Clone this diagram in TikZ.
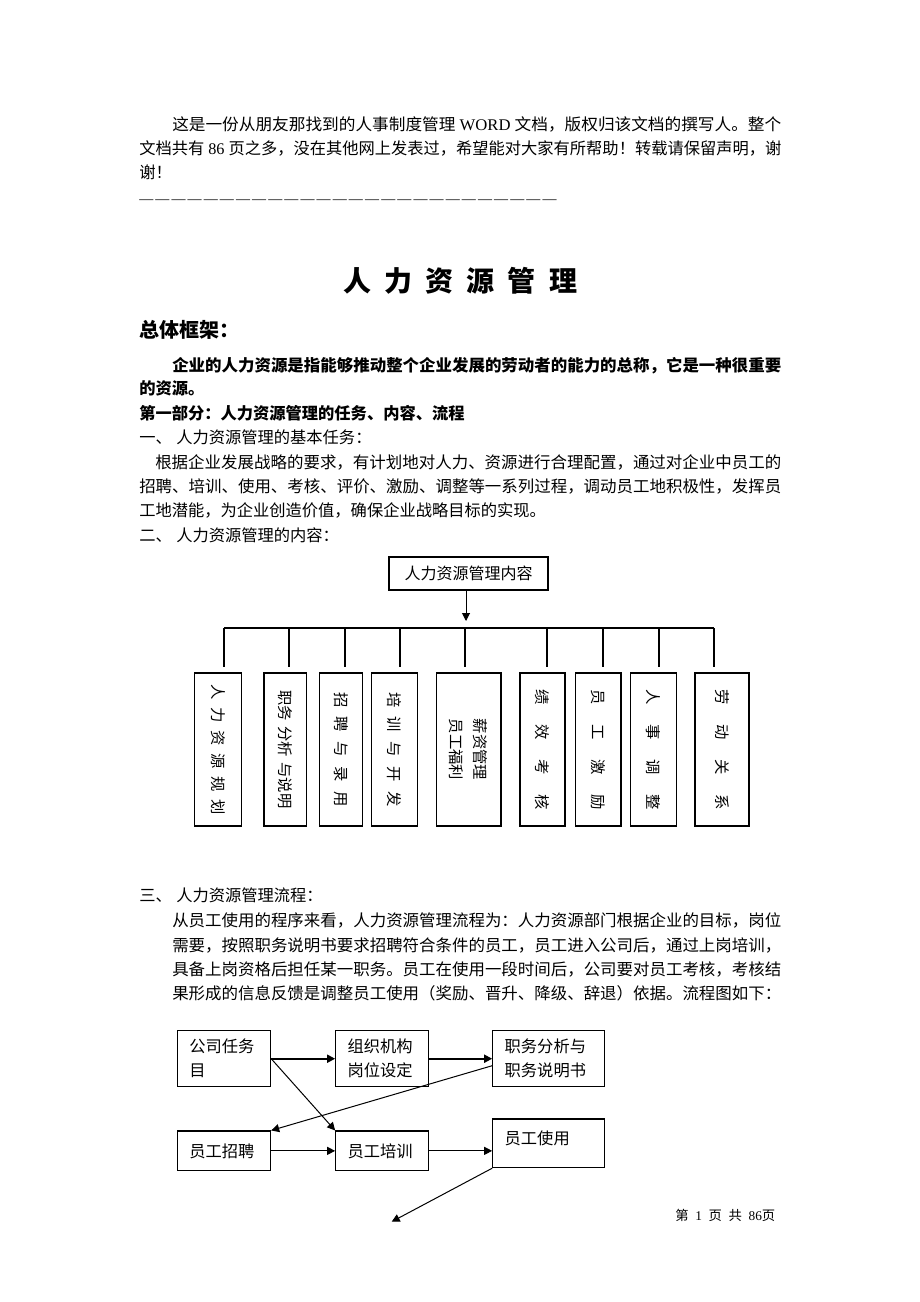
\documentclass[tikz,border=0pt]{standalone}
\usepackage{fontspec}
\usepackage{graphicx}
\setmainfont{Noto Sans CJK SC}
\newfontfamily\latin{Liberation Serif}
\usetikzlibrary{arrows.meta}
\usetikzlibrary{calc}
\newcommand{\jline}[2]{\resizebox{#1}{\height}{#2}}

\begin{document}
\begin{tikzpicture}[x=0.75pt,y=0.75pt,yscale=-1,xscale=1,
  txt/.style={anchor=west, inner sep=0pt, text height=10.7pt, text depth=1.5pt, font=\fontsize{12.2}{18}\selectfont},
  boldtxt/.style={txt, font=\fontsize{12.2}{18}\selectfont\bfseries},
  box/.style={draw, line width=0.8pt, inner sep=0pt},
  vbox/.style={box, rotate=-90, minimum width=114.75pt, font=\fontsize{11.5}{18}\selectfont, align=left},
  fbox/.style={box, inner xsep=9pt, font=\fontsize{12.2}{18}\selectfont, align=left},
  arr/.style={-{Triangle[length=6pt,width=6pt]}, line width=0.75pt},
  thickarr/.style={arr, line width=1.3pt}]
\useasboundingbox (0,0) rectangle (920,1302);
\fill [white] (0,0) rectangle (920,1302);

% Text Node
\node [txt] (intro1) at (172,124) {\jline{456.75pt}{这是一份从朋友那找到的人事制度管理{\latin\ WORD\ }文档，版权归该文档的撰写人。整个}};
% Text Node
\node [txt] (intro2) at (139,148) {\jline{481.5pt}{文档共有{\latin\ 86\ }页之多，没在其他网上发表过，希望能对大家有所帮助！转载请保留声明，谢}};
% Text Node
\node [txt] (intro3) at (139,172) {谢！};
% Text Node
\node [txt, font=\latin\fontsize{10.5}{12}\selectfont] (rule) at (139,197) {\foreach \d in {1,...,26}{—\kern1.6pt}};

% Text Node
\node [inner sep=0pt, font=\fontsize{21}{24}\selectfont\bfseries] (title) at (460,281) {\makebox[175.5pt]{人\hfill 力\hfill 资\hfill 源\hfill 管\hfill 理}};
% Text Node
\node [anchor=west, inner sep=0pt, font=\fontsize{15}{18}\selectfont\bfseries] (frame) at (139,330) {总体框架：};

% Text Node
\node [boldtxt] (def1) at (172,365) {\jline{456.75pt}{企业的人力资源是指能够推动整个企业发展的劳动者的能力的总称，它是一种很重要}};
% Text Node
\node [boldtxt] (def2) at (139,388) {的资源。};
% Text Node
\node [boldtxt] (part1) at (139,413) {第一部分：人力资源管理的任务、内容、流程};
% Text Node
\node [txt] (task) at (139,437) {一、\hspace{3.4pt}人力资源管理的基本任务：};
% Text Node
\node [txt] (taskA) at (155,462) {\jline{469.5pt}{根据企业发展战略的要求，有计划地对人力、资源进行合理配置，通过对企业中员工的}};
% Text Node
\node [txt] (taskB) at (139,486) {\jline{481.5pt}{招聘、培训、使用、考核、评价、激励、调整等一系列过程，调动员工地积极性，发挥员}};
% Text Node
\node [txt] (taskC) at (139,510) {工地潜能，为企业创造价值，确保企业战略目标的实现。};
% Text Node
\node [txt] (content) at (139,535) {二、\hspace{3.4pt}人力资源管理的内容：};

%Shape: Rectangle
\node [box, minimum width=119.25pt, minimum height=24.75pt, font=\fontsize{12}{18}\selectfont] (whole) at (468.5,573.5) {人力资源管理内容};
%Straight Lines
\coordinate (tip) at (466,621);
\draw [arr] (whole.south -| tip) -- (tip);
%Straight Lines
\coordinate (busL) at (224,628);
\coordinate (busR) at (714,628);
\draw [line width=0.8pt] (busL) -- (busR);
\draw [line width=0.8pt] (224,628) -- (224,667);
\draw [line width=0.8pt] (289,628) -- (289,667);
\draw [line width=0.8pt] (345,628) -- (345,667);
\draw [line width=0.8pt] (400,628) -- (400,667);
\draw [line width=0.8pt] (465,628) -- (465,667);
\draw [line width=0.8pt] (547,628) -- (547,667);
\draw [line width=0.8pt] (603,628) -- (603,667);
\draw [line width=0.8pt] (659,628) -- (659,667);
\draw [line width=0.8pt] (714,628) -- (714,667);

%Shape: Rectangle
\node [vbox, minimum height=35.25pt] (plan) at (218,749.5) {\makebox[97.5pt]{人\hfill 力\hfill 资\hfill 源\hfill 规\hfill 划}};
%Shape: Rectangle
\node [vbox, minimum height=31.9pt] (analysis) at (285.25,749.5) {\makebox[88.5pt]{职务\hfill 分析\hfill 与说明}};
%Shape: Rectangle
\node [vbox, minimum height=32.25pt] (recruit) at (341,749.5) {\makebox[86.25pt]{招\hfill 聘\hfill 与\hfill 录\hfill 用}};
%Shape: Rectangle
\node [vbox, minimum height=34.5pt] (train) at (394.5,749.5) {\makebox[86.25pt]{培\hfill 训\hfill 与\hfill 开\hfill 发}};
%Shape: Rectangle
\node [vbox, minimum height=48.4pt] (pay) at (468.75,749.5) {薪资管理\\员工福利};
%Shape: Rectangle
\node [vbox, minimum height=33.75pt] (perf) at (542.5,749.5) {\makebox[90pt]{绩\hfill 效\hfill 考\hfill 核}};
%Shape: Rectangle
\node [vbox, minimum height=34.1pt] (motive) at (598.25,749.5) {\makebox[90pt]{员\hfill 工\hfill 激\hfill 励}};
%Shape: Rectangle
\node [vbox, minimum height=34.5pt] (adjust) at (653.5,749.5) {\makebox[90pt]{人\hfill 事\hfill 调\hfill 整}};
%Shape: Rectangle
\node [vbox, minimum height=40.5pt] (labour) at (722,749.5) {\makebox[90pt]{劳\hfill 动\hfill 关\hfill 系}};

% Text Node
\node [txt] (flow) at (139,895) {三、\hspace{3.4pt}人力资源管理流程：};
% Text Node
\node [txt] (flowA) at (172,920) {\jline{456.75pt}{从员工使用的程序来看，人力资源管理流程为：人力资源部门根据企业的目标，岗位}};
% Text Node
\node [txt] (flowB) at (172,945) {\jline{456.75pt}{需要，按照职务说明书要求招聘符合条件的员工，员工进入公司后，通过上岗培训，}};
% Text Node
\node [txt] (flowC) at (172,969) {\jline{456.75pt}{具备上岗资格后担任某一职务。员工在使用一段时间后，公司要对员工考核，考核结}};
% Text Node
\node [txt] (flowD) at (172,993) {\jline{456.75pt}{果形成的信息反馈是调整员工使用（奖励、晋升、降级、辞退）依据。流程图如下：}};

%Shape: Rectangle
\node [fbox, text width=52pt, minimum height=42pt] (goal) at (224,1058.7) {公司任务\\目};
%Shape: Rectangle
\node [fbox, text width=51.5pt, minimum height=42pt] (org) at (382,1058.7) {组织机构\\岗位设定};
%Shape: Rectangle
\node [fbox, text width=65.7pt, minimum height=42pt] (jobdesc) at (548.5,1058.7) {职务分析与\\职务说明书};
%Shape: Rectangle
\node [fbox, text width=52pt, minimum height=29.8pt] (hire) at (224,1150.85) {员工招聘};
%Shape: Rectangle
\node [fbox, text width=51.5pt, minimum height=29.8pt] (training) at (382,1150.85) {员工培训};
%Shape: Rectangle
\node [fbox, text width=65.7pt, minimum height=36.5pt, text depth=9pt] (use) at (548.5,1143.35) {员工使用};

%Straight Lines
\draw [thickarr] (goal.east) -- (org.west);
\draw [thickarr] (org.east) -- (jobdesc.west);
\draw [arr] (goal.east) -- (training.north west);
\draw [arr] ($(jobdesc.west)+(0,7)$) -- (hire.north east);
\draw [arr] (hire.east) -- (training.west);
\draw [arr] (training.east) -- (training.east -| use.west);
\coordinate (next) at (391.7,1221.7);
\draw [arr] (use.south west) -- (next);

% Text Node
\node [anchor=west, inner sep=0pt, font=\fontsize{10}{12}\selectfont] (footer) at (675,1215) {第\hspace{5pt}{\latin 1}\hspace{5pt}页\hspace{5pt}共\hspace{5pt}{\latin 86}页};

\end{tikzpicture}
\end{document}
